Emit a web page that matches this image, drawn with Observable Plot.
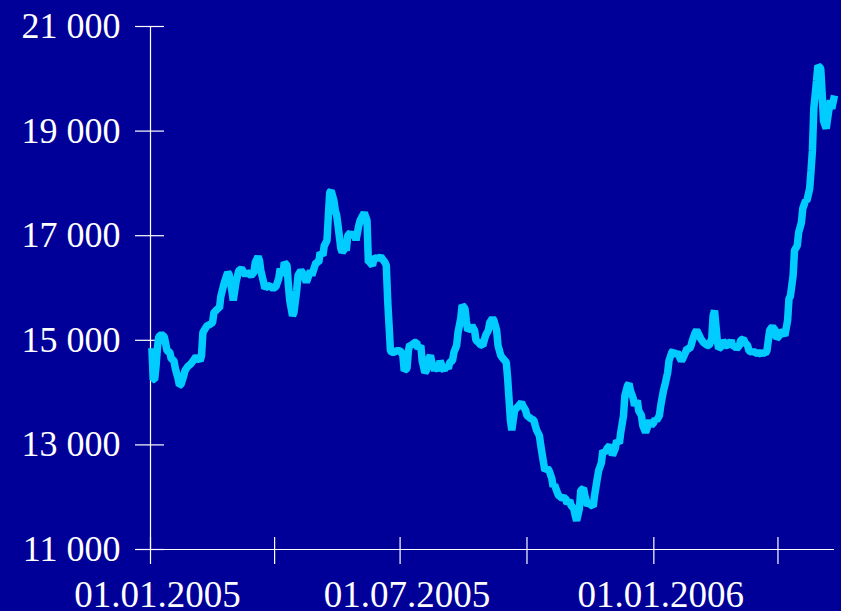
<!DOCTYPE html>
<html><head><meta charset="utf-8">
<script src="https://cdn.jsdelivr.net/npm/d3@7"></script>
<script src="https://cdn.jsdelivr.net/npm/@observablehq/plot@0.6"></script>
<style>html,body{margin:0;padding:0;background:#000099;overflow:hidden;}</style>
</head><body><div id="chart"></div>
<script>
// Days since 01.01.2005 and index values
const startDate = "2005-01-01";
const endDate = "2006-05-12";
const days = [1,2,3,4,5,6,8,10,12,14,15,17,18,20,21,22,24,25,27,29,31,33,36,37,38,41,43,45,46,49,50,51,53,54,56,57,59,60,62,63,64,66,67,69,70,72,73,75,76,78,79,80,82,83,85,87,89,91,93,94,96,97,99,100,101,103,104,106,107,109,110,112,113,114,116,117,119,120,122,123,125,126,128,129,130,131,133,134,135,136,138,139,141,142,143,145,146,148,149,151,152,154,155,157,158,159,161,162,164,165,167,168,170,171,172,174,175,177,178,180,181,183,184,186,187,188,190,191,193,194,196,197,199,200,201,203,204,206,207,209,210,212,213,214,216,217,219,220,222,223,225,226,228,229,230,232,233,235,236,238,239,241,242,243,245,246,248,249,251,252,254,255,257,258,259,261,262,263,264,266,267,269,270,272,273,275,276,278,279,280,282,283,285,286,288,289,291,292,293,295,296,298,299,301,302,304,305,307,308,309,311,312,314,315,317,318,320,321,322,324,325,327,328,330,331,333,334,335,337,338,340,341,343,344,346,347,348,350,351,353,354,356,357,359,360,362,363,365,366,367,369,370,372,373,375,376,378,379,380,382,383,385,386,388,389,391,392,393,395,396,398,399,401,402,404,405,407,408,409,411,412,414,415,417,418,420,421,422,424,425,427,428,430,431,433,434,436,437,438,440,441,443,444,446,447,449,450,451,453,454,456,457,459,460,462,463,464,466,467,469,470,472,473,475,476,478,479,480,481,483,484,486,487,488,490,491,493,494,496];
const values = [14850,14250,14250,14500,14850,15070,15110,15070,14800,14770,14650,14610,14460,14270,14140,14150,14310,14420,14500,14540,14610,14690,14610,14710,15150,15280,15300,15340,15530,15610,15610,15840,16050,16140,16300,16260,15950,15760,16110,16220,16330,16370,16330,16240,16300,16260,16240,16300,16490,16600,16530,16330,16110,15990,16050,16030,15990,16030,16180,16370,16240,16490,16430,16050,15760,15470,15530,15950,16240,16330,16300,16180,16110,16180,16330,16240,16410,16490,16490,16680,16620,16810,16910,17390,17830,17860,17670,17480,17390,17190,16760,16680,16760,16720,17000,17060,16980,17060,16910,17190,17290,17390,17440,17290,16490,16490,16430,16560,16580,16560,16600,16560,16490,16430,15760,14800,14770,14770,14800,14800,14800,14710,14420,14460,14800,14920,14900,14960,14960,14840,14900,14610,14380,14420,14610,14710,14580,14420,14520,14420,14610,14460,14420,14520,14460,14580,14610,14770,14900,15150,15420,15670,15610,15380,15190,15230,15280,15190,15000,14960,14920,14900,15000,15090,15190,15340,15420,15380,15190,14900,14710,14670,14610,14580,14270,13470,13280,13470,13660,13720,13750,13810,13750,13660,13560,13520,13500,13470,13370,13280,13180,12990,12660,12510,12550,12510,12360,12200,12240,12090,12030,11990,11990,11980,11880,11940,11840,11780,11650,11550,11780,12130,12170,12030,11840,11880,11840,11820,12030,12360,12510,12660,12890,12850,12930,12990,12930,12800,12930,13080,13030,13240,13560,13940,14140,14170,14040,13890,13750,13850,13660,13560,13370,13240,13310,13470,13370,13430,13500,13470,13560,13750,14040,14140,14380,14610,14770,14800,14710,14770,14710,14610,14650,14770,14840,14840,14900,15000,15150,15190,15090,15030,14960,14940,14900,14900,15030,15470,15570,15000,14840,14880,15000,14900,14900,14940,15000,14900,14880,14840,14900,15000,15030,14960,14900,14800,14770,14800,14770,14750,14770,14730,14770,14750,14800,15190,15230,15260,15190,15030,15090,15190,15130,15090,15380,15800,15840,16240,16720,16810,17060,17250,17520,17670,17670,17900,18250,18630,19430,19970,20250,20200,19740,19200,19050,19240,19590,19430,19680];
const yTicks = [11000, 13000, 15000, 17000, 19000, 21000];
const xTickDates = ["2005-01-01", "2005-04-01", "2005-07-01", "2005-10-01", "2006-01-01", "2006-04-01"];
const xLabelDates = ["2005-01-01", "2005-07-01", "2006-01-01"];

const start = new Date(startDate);
const data = days.map((d, i) => ({date: d3.utcDay.offset(start, d), value: values[i]}));
const white = "#ffffff";
const fmtY = d => d3.format(",")(d).replace(",", " ");
const fmtX = d3.utcFormat("%d.%m.%Y");

const chart = Plot.plot({
  width: 841,
  height: 611,
  marginLeft: 150,
  marginRight: 7,
  marginTop: 26,
  marginBottom: 62,
  style: {background: "#000099", color: white, fontFamily: "'Liberation Serif', 'Times New Roman', serif", fontSize: "36px"},
  x: {type: "utc", domain: [start, new Date(endDate)], label: null},
  y: {domain: [11000, 21000], label: null},
  marks: [
    Plot.ruleY([11000], {stroke: white, strokeWidth: 1.2}),
    Plot.ruleX([start], {y1: 11000, y2: 21000, stroke: white, strokeWidth: 1.2}),
    Plot.axisY({ticks: yTicks, tickSize: 29, dx: 14, fill: "none", stroke: white, strokeWidth: 1.2, label: null}),
    Plot.axisY({ticks: yTicks, tickSize: 0, tickPadding: 30, tickFormat: fmtY, fill: white, label: null}),
    Plot.axisX({ticks: xTickDates.map(d => new Date(d)), tickSize: 27, dy: -12, fill: "none", stroke: white, strokeWidth: 1.2, label: null}),
    Plot.axisX({ticks: xLabelDates.map(d => new Date(d)), tickSize: 0, tickPadding: 31, tickFormat: fmtX, fill: white, fontSize: 37, dx: 7, label: null}),
    Plot.line(data, {x: "date", y: "value", stroke: "#00ccff", strokeWidth: 7.5, strokeLinejoin: "miter", strokeMiterlimit: 1, strokeLinecap: "butt"})
  ]
});
document.getElementById("chart").appendChild(chart);
</script>
</body></html>
